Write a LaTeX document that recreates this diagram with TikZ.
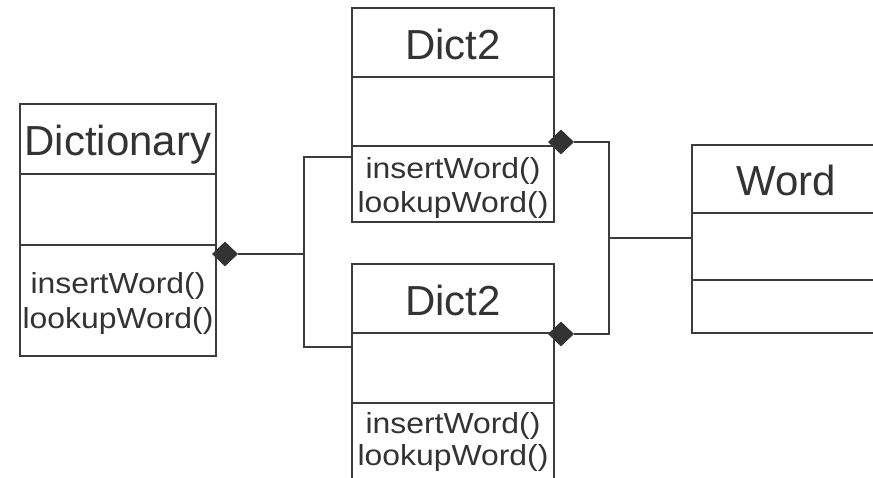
\documentclass[tikz,border=0pt]{standalone}
\usepackage{fontspec}
\setmainfont{Liberation Sans}
\newfontfamily\methfont[FakeStretch=1.1]{Liberation Sans}
\usetikzlibrary{shapes.geometric}
\definecolor{ink}{HTML}{333333}
\definecolor{rule}{HTML}{3C3C3C}

\begin{document}
\begin{tikzpicture}[x=1pt,y=-1pt,
  part/.style={draw=rule, line width=2pt, fill=white, inner sep=0pt},
  title/.style={anchor=base, inner sep=0pt, text=ink, font=\fontsize{42}{42}\selectfont},
  meth/.style={anchor=base, inner sep=0pt, text=ink, font=\methfont\fontsize{29}{29}\selectfont},
  link/.style={draw=rule, line width=1.8pt},
  agg/.style={diamond, fill=ink, draw=none, inner sep=0pt, minimum width=26pt, minimum height=25pt}
]
\useasboundingbox (0,0) rectangle (873,477);
\clip (0,0) rectangle (873,477);

% Dictionary class
\node[part, minimum width=196pt, minimum height=70pt]  (dt) at (118,139)   {};
\node[part, minimum width=196pt, minimum height=71pt]  (da) at (118,209.5) {};
\node[part, minimum width=196pt, minimum height=111pt] (dm) at (118,300.5) {};
\node[title] (dtl)  at (118,155) {Dictionary};
\node[meth]  (dm1)  at (118,293) {insertWord()};
\node[meth]  (dm2)  at (118,328) {lookupWord()};

% upper Dict2 class
\node[part, minimum width=202pt, minimum height=69pt] (tt) at (453,42.5)  {};
\node[part, minimum width=202pt, minimum height=69pt] (ta) at (453,111.5) {};
\node[part, minimum width=202pt, minimum height=76pt] (tm) at (453,184)   {};
\node[title] (ttl) at (453,59)  {Dict2};
\node[meth]  (tm1) at (453,178) {insertWord()};
\node[meth]  (tm2) at (453,212) {lookupWord()};

% lower Dict2 class
\node[part, minimum width=202pt, minimum height=69pt] (bt) at (453,298.5) {};
\node[part, minimum width=202pt, minimum height=70pt] (ba) at (453,368)   {};
\node[part, minimum width=202pt, minimum height=97pt] (bm) at (453,451.5) {};
\node[title] (btl) at (453,315) {Dict2};
\node[meth]  (bm1) at (453,433) {insertWord()};
\node[meth]  (bm2) at (453,465) {lookupWord()};

% Word class
\node[part, minimum width=188pt, minimum height=68pt] (wt) at (786,179)   {};
\node[part, minimum width=188pt, minimum height=67pt] (wa) at (786,246.5) {};
\node[part, minimum width=188pt, minimum height=53pt] (wm) at (786,306.5) {};
\node[title] (wtl) at (786,195) {Word};

% junction points of the connectors
\coordinate (j1) at (304,254);
\coordinate (j2) at (609,238);

% aggregation diamonds, above the box edges
\node[agg] (dd)  at (225,254) {};
\node[agg] (td)  at (561,142) {};
\node[agg] (bd)  at (561,334) {};

% connectors
\draw[link] (dd.east) -- (j1);
\draw[link] ([yshift=-12pt]tm.north west) -| (j1);
\draw[link] ([yshift=-15pt]ba.north west) -| (j1);
\draw[link] (td.east) -| (j2);
\draw[link] (bd.east) -| (j2);
\draw[link] (j2) -- (j2 -| wa.west);
\end{tikzpicture}
\end{document}
